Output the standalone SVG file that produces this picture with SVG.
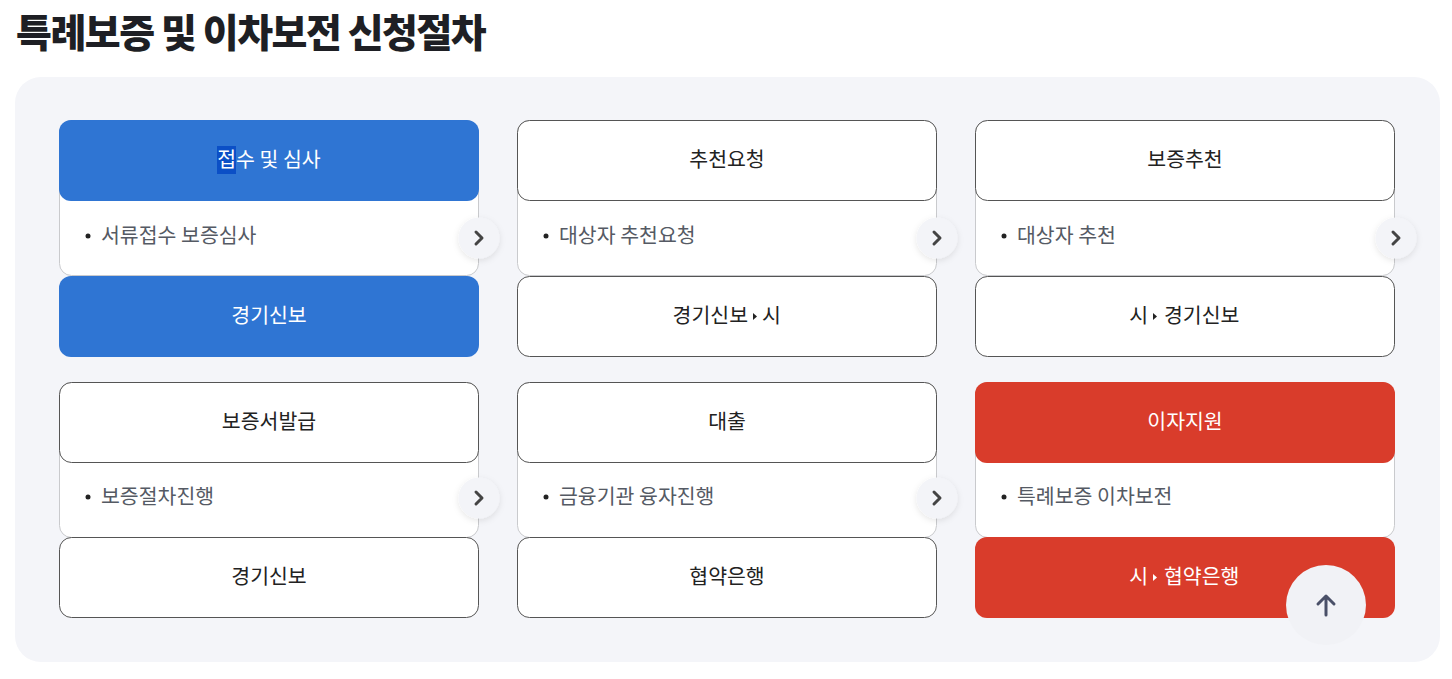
<svg xmlns="http://www.w3.org/2000/svg" width="1452" height="679" viewBox="0 0 1452 679">
<style>
text{font-family:"Noto Sans CJK KR","Noto Sans",sans-serif;}
.title{font-size:39px;font-weight:900;fill:#1e1f24;letter-spacing:-1.5px;}
.h{font-size:20.5px;fill:#222;text-anchor:middle;}
.hw{font-size:20.5px;fill:#fff;text-anchor:middle;}
.t{font-size:20.5px;fill:#222;}
.tw{font-size:20.5px;fill:#fff;}
.b{font-size:20.5px;fill:#555a64;}
.card{fill:#fff;stroke:#c9cacd;stroke-width:1;}
.box{fill:#fff;stroke:#555;stroke-width:1;}
.blue{fill:#2f75d3;}
.red{fill:#d93c2b;}
.dot{fill:#222;}
.chev{fill:#f3f4f8;filter:url(#sh);}
.chevl{fill:none;stroke:#444;stroke-width:3;stroke-linecap:round;stroke-linejoin:round;}
</style>
<defs>
<filter id="sh" x="-50%" y="-50%" width="200%" height="200%">
<feDropShadow dx="0" dy="2" stdDeviation="3" flood-color="#000" flood-opacity="0.1"/>
</filter>
</defs>
<rect width="1452" height="679" fill="#fff"/>
<text class="title" x="16" y="47">특례보증 및 이차보전 신청절차</text>
<rect x="15" y="77" width="1425" height="585" rx="26" fill="#f4f5f9"/>

<g id="step1">
<rect class="card" x="59.5" y="120.5" width="419" height="155" rx="12"/>
<rect class="blue" x="59" y="120" width="420" height="81" rx="12"/>
<rect x="217" y="146" width="19" height="28" fill="#0b4fc6"/>
<text class="hw" x="269" y="167">접수 및 심사</text>
<circle class="dot" cx="88" cy="236" r="2.5"/>
<text class="b" x="101" y="243">서류접수 보증심사</text>
<rect class="blue" x="59" y="276" width="420" height="81" rx="12"/>
<text class="hw" x="269" y="323">경기신보</text>
</g>

<g id="step2">
<rect class="card" x="517.5" y="120.5" width="419" height="155" rx="12"/>
<rect class="box" x="517.5" y="120.5" width="419" height="80" rx="12"/>
<text class="h" x="727" y="167">추천요청</text>
<circle class="dot" cx="546" cy="236" r="2.5"/>
<text class="b" x="559" y="243">대상자 추천요청</text>
<rect class="box" x="517.5" y="276.5" width="419" height="80" rx="12"/>
<text class="t" x="748" y="323" text-anchor="end">경기신보</text>
<polygon points="753,313 757,316.5 753,320" fill="#222"/>
<text class="t" x="762" y="323">시</text>
</g>

<g id="step3">
<rect class="card" x="975.5" y="120.5" width="419" height="155" rx="12"/>
<rect class="box" x="975.5" y="120.5" width="419" height="80" rx="12"/>
<text class="h" x="1185" y="167">보증추천</text>
<circle class="dot" cx="1004" cy="236" r="2.5"/>
<text class="b" x="1017" y="243">대상자 추천</text>
<rect class="box" x="975.5" y="276.5" width="419" height="80" rx="12"/>
<text class="t" x="1148" y="323" text-anchor="end">시</text>
<polygon points="1153,313 1157,316.5 1153,320" fill="#222"/>
<text class="t" x="1164" y="323">경기신보</text>
</g>

<g id="step4">
<rect class="card" x="59.5" y="382.5" width="419" height="155" rx="12"/>
<rect class="box" x="59.5" y="382.5" width="419" height="80" rx="12"/>
<text class="h" x="269" y="429">보증서발급</text>
<circle class="dot" cx="88" cy="497" r="2.5"/>
<text class="b" x="101" y="504">보증절차진행</text>
<rect class="box" x="59.5" y="537.5" width="419" height="80" rx="12"/>
<text class="h" x="269" y="584">경기신보</text>
</g>

<g id="step5">
<rect class="card" x="517.5" y="382.5" width="419" height="155" rx="12"/>
<rect class="box" x="517.5" y="382.5" width="419" height="80" rx="12"/>
<text class="h" x="727" y="429">대출</text>
<circle class="dot" cx="546" cy="497" r="2.5"/>
<text class="b" x="559" y="504">금융기관 융자진행</text>
<rect class="box" x="517.5" y="537.5" width="419" height="80" rx="12"/>
<text class="h" x="727" y="584">협약은행</text>
</g>

<g id="step6">
<rect class="card" x="975.5" y="382.5" width="419" height="155" rx="12"/>
<rect class="red" x="975" y="382" width="420" height="81" rx="12"/>
<text class="hw" x="1185" y="429">이자지원</text>
<circle class="dot" cx="1004" cy="497" r="2.5"/>
<text class="b" x="1017" y="504">특례보증 이차보전</text>
<rect class="red" x="975" y="537" width="420" height="81" rx="12"/>
<text class="tw" x="1148" y="584" text-anchor="end">시</text>
<polygon points="1153,574 1157,577.5 1153,581" fill="#fff"/>
<text class="tw" x="1164" y="584">협약은행</text>
</g>

<g id="connectors">
<circle class="chev" cx="479" cy="238" r="20.5"/>
<polyline class="chevl" points="476,232 482,238 476,244"/>
<circle class="chev" cx="937" cy="238" r="20.5"/>
<polyline class="chevl" points="934,232 940,238 934,244"/>
<circle class="chev" cx="1396" cy="238" r="20.5"/>
<polyline class="chevl" points="1393,232 1399,238 1393,244"/>
<circle class="chev" cx="479" cy="498" r="20.5"/>
<polyline class="chevl" points="476,492 482,498 476,504"/>
<circle class="chev" cx="937" cy="498" r="20.5"/>
<polyline class="chevl" points="934,492 940,498 934,504"/>
</g>

<g id="scrolltop">
<circle cx="1326" cy="605" r="40" fill="#f1f2f6"/>
<path d="M1326 615 V596 M1318 604 L1326 596 L1334 604" fill="none" stroke="#4a5068" stroke-width="3" stroke-linecap="round" stroke-linejoin="round"/>
</g>
</svg>
